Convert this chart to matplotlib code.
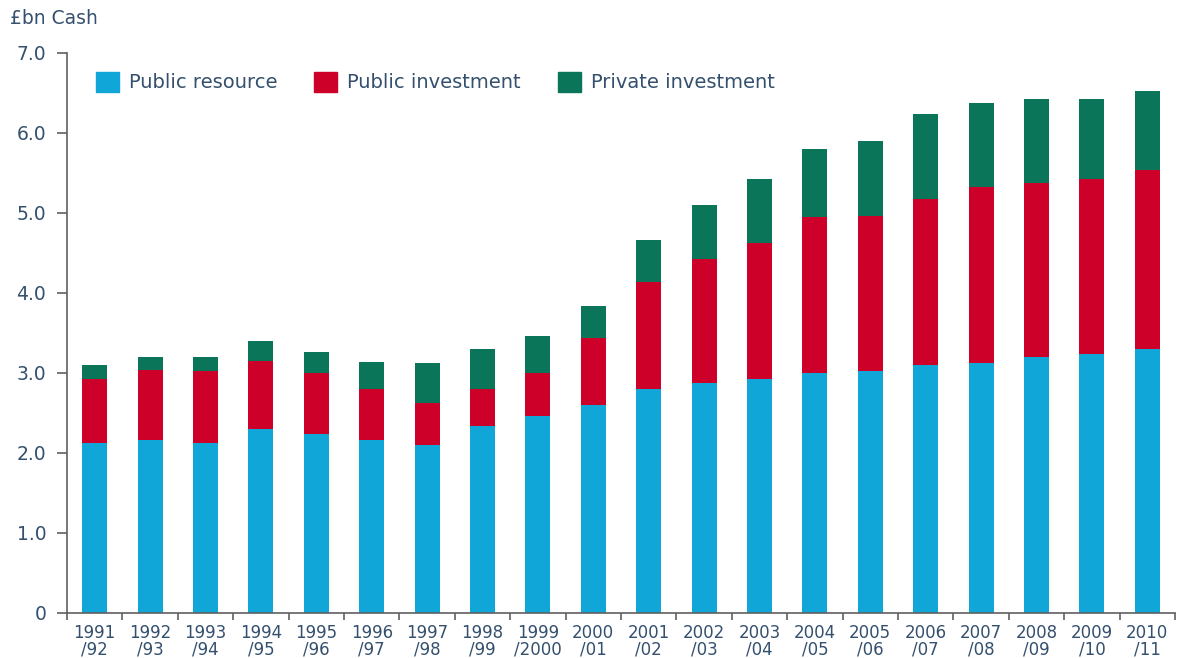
import matplotlib
matplotlib.use("Agg")
import matplotlib.pyplot as plt
import numpy as np
from matplotlib.patches import Patch

years = ["1991\n/92", "1992\n/93", "1993\n/94", "1994\n/95", "1995\n/96", "1996\n/97",
         "1997\n/98", "1998\n/99", "1999\n/2000", "2000\n/01", "2001\n/02", "2002\n/03",
         "2003\n/04", "2004\n/05", "2005\n/06", "2006\n/07", "2007\n/08", "2008\n/09",
         "2009\n/10", "2010\n/11"]
# cumulative tops
public_resource = [2.13, 2.16, 2.13, 2.30, 2.24, 2.16, 2.10, 2.34, 2.46, 2.60,
                   2.80, 2.87, 2.93, 3.00, 3.03, 3.10, 3.13, 3.20, 3.24, 3.30]
resource_plus_invest = [2.93, 3.04, 3.03, 3.15, 3.00, 2.80, 2.62, 2.80, 3.00, 3.44,
                        4.14, 4.42, 4.63, 4.95, 4.96, 5.17, 5.33, 5.37, 5.43, 5.54]
totals = [3.10, 3.20, 3.20, 3.40, 3.26, 3.14, 3.13, 3.30, 3.46, 3.84,
          4.66, 5.10, 5.43, 5.80, 5.90, 6.24, 6.37, 6.43, 6.43, 6.53]

public_investment = [b - a for a, b in zip(public_resource, resource_plus_invest)]
private_investment = [c - b for b, c in zip(resource_plus_invest, totals)]

c_blue = "#10a6d8"
c_red = "#cc0029"
c_green = "#0a7558"
txt = "#34506e"
axc = "#606060"

plt.rcParams['font.family'] = ['DejaVu Sans']

fig = plt.figure(figsize=(11.84, 6.58), dpi=100)
ax = fig.add_axes([67/1184, 45/658, (1175-67)/1184, (613-53)/658])

x = np.arange(len(years))
w = 0.45
ax.bar(x, public_resource, w, color=c_blue, label="Public resource")
ax.bar(x, public_investment, w, bottom=public_resource, color=c_red, label="Public investment")
ax.bar(x, private_investment, w, bottom=resource_plus_invest, color=c_green, label="Private investment")

ax.set_xlim(-0.5, len(years) - 0.5)
ax.set_ylim(0, 7.0)

ax.set_yticks(np.arange(0, 8, 1.0))
ax.set_yticklabels(["0"] + [f"{v:.1f}" for v in np.arange(1, 8, 1.0)])

ax.set_xticks(np.arange(-0.5, len(years), 1.0))
ax.set_xticklabels([])
ax.set_xticks(x, minor=True)
ax.set_xticklabels(years, minor=True)
ax.tick_params(axis='x', which='minor', length=0, pad=8, labelsize=12, labelcolor=txt)
ax.tick_params(axis='x', which='major', length=5, width=1.2, color=axc, direction='out')
ax.tick_params(axis='y', length=7, width=1.2, color=axc, labelsize=13.5, labelcolor=txt, pad=8)
for lbl in ax.get_xticklabels(minor=True):
    lbl.set_linespacing(0.85)

for s in ['top', 'right']:
    ax.spines[s].set_visible(False)
for s in ['left', 'bottom']:
    ax.spines[s].set_color(axc)
    ax.spines[s].set_linewidth(1.2)

handles = [Patch(color=c_blue), Patch(color=c_red), Patch(color=c_green)]
leg = ax.legend(handles, ["Public resource", "Public investment", "Private investment"],
                ncol=3, frameon=False, loc='upper left', bbox_to_anchor=(0.01, 0.998),
                fontsize=14, handlelength=1.2, handleheight=1.2, handletextpad=0.5,
                columnspacing=1.9, labelcolor=txt)

fig.text(10/1184, 1 - 18/658, "£bn Cash", fontsize=13.5, color=txt, va='center', ha='left')

fig.savefig("out.png", dpi=100)
